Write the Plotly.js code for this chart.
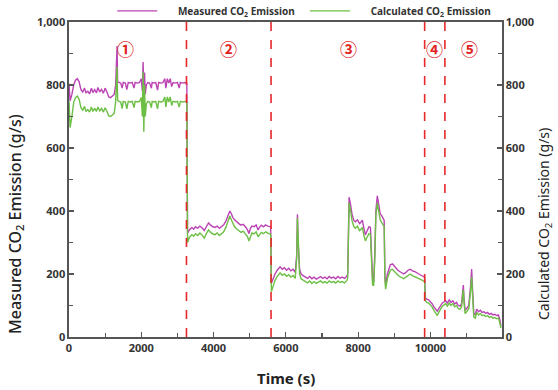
<!DOCTYPE html>
<html>
<head>
<meta charset="utf-8">
<script src="https://cdn.plot.ly/plotly-3.0.1.min.js"></script>
<style>html,body{margin:0;padding:0;background:#fff;}#chart{width:558px;height:390px;}</style>
</head>
<body>
<div id="chart"></div>
<script>
// Time (s)
const timeS = [
0,30,80,130,180,230,280,330,380,430,470,520,570,620,660,710,760,800,850,900,950,1000,1050,1100,1150,1200,1250,1290,1310,1330,1345,1380,1430,1470,1500,1560,1600,1640,1700,1750,1800,1830,1900,1950,2000,2030,2050,2070,2090,2110,2140,2180,2230,2280,2300,2350,2400,2450,2480,2550,2600,2650,2680,2720,2760,2800,2840,2880,2950,3000,3050,3080,3150,3200,3260,
3280,3330,3400,3450,3500,3560,3620,3680,3740,3800,3860,3920,3980,4040,4100,4160,4220,4280,4340,4400,4450,4490,4530,4580,4640,4700,4760,4820,4880,4940,4980,5020,5060,5120,5180,5230,5270,5320,5380,5440,5500,5580,
5600,5640,5700,5760,5840,5900,5960,6020,6080,6140,6200,6260,6300,6320,6340,6380,6420,6480,6540,6600,6660,6720,6780,6840,6900,6960,7020,7080,7140,7200,7260,7320,7380,7440,7500,7560,7620,7680,7710,7730,7750,7790,7830,7880,7920,7980,8040,8080,8116,8160,8200,8240,8300,8340,8370,8400,8430,8460,8490,8530,8570,8610,8650,8690,8720,8740,8760,8810,8860,8890,8950,9000,9050,9100,9150,9200,9260,9320,9380,9440,9500,9560,9620,9680,9740,9800,9840,
9860,9900,9950,10000,10050,10100,10150,10190,10230,10280,10330,10380,10420,10470,10520,10570,10620,10670,10720,10770,10820,10860,10890,10910,10930,10960,11000,11060,11110,11140,11170,11200,11240,11280,11330,11380,11430,11480,11530,11580,11630,11680,11730,11780,11830,11880,11920,11950
];
// Measured CO2 emission (g/s)
const measured = [
805,750,770,800,815,820,810,785,778,790,775,780,772,790,776,785,775,792,778,786,774,790,778,762,760,765,770,800,850,924,810,808,806,790,808,806,785,808,806,808,790,808,806,808,820,780,873,790,840,770,800,808,806,790,808,806,808,784,808,806,808,820,790,820,806,820,795,808,806,808,790,808,806,808,806,
330,340,348,342,350,345,352,347,338,350,362,355,350,348,352,345,350,356,368,385,400,392,380,372,365,360,355,358,350,340,328,345,352,350,356,340,348,355,350,356,352,350,
171,185,200,212,223,215,220,212,218,210,215,205,260,390,300,215,200,195,190,186,192,185,190,184,188,192,186,190,185,192,187,190,185,192,187,190,186,192,200,320,444,420,390,370,366,372,360,365,371,345,324,335,350,348,260,180,178,260,400,448,420,392,385,378,370,200,165,200,220,229,232,225,218,212,208,204,200,205,212,215,210,208,205,200,196,192,190,
125,120,118,112,105,95,88,82,90,100,108,112,115,108,118,110,115,105,110,100,98,105,140,165,120,85,90,100,160,216,140,75,70,88,80,85,78,80,75,78,72,75,70,72,68,70,55,35
];
// Calculated CO2 emission (g/s)
const calculated = [
750,665,700,745,760,765,755,728,720,732,716,722,714,730,716,726,716,730,718,726,714,728,716,702,700,704,710,745,800,858,752,748,746,725,748,746,724,748,746,748,728,748,746,748,760,700,842,652,800,700,740,748,746,728,748,746,748,724,748,746,748,762,730,762,746,762,735,748,746,748,730,748,746,748,746,
300,316,325,320,328,322,330,324,314,328,340,332,327,325,330,322,328,334,348,366,384,372,360,350,343,338,332,336,328,318,305,322,330,327,334,318,326,332,328,334,330,326,
144,162,180,192,204,196,200,193,198,190,195,186,250,378,290,200,185,180,176,172,178,170,176,170,174,178,172,176,171,178,173,176,171,178,173,176,172,178,186,300,425,400,370,350,345,352,338,342,348,322,305,315,328,326,240,165,164,245,385,425,398,372,364,356,350,185,152,186,205,212,215,208,202,196,192,188,185,190,196,200,195,192,190,186,182,178,176,
115,110,108,102,95,84,74,68,78,90,98,102,106,98,108,100,106,96,100,90,88,95,128,150,108,74,80,90,145,190,125,64,60,78,70,75,68,70,65,68,62,65,60,62,58,60,45,28
];
// Phase boundaries (s) and phase labels
const phaseBounds = [3250, 5590, 9840, 10400];
const phaseLabels = ['①','②','③','④','⑤'];
const phaseLabelTimes = [1550, 4400, 7730, 10110, 11080];
const xTickVals = [0, 2000, 4000, 6000, 8000, 10000];

const axisColor = '#555';
const tickFont = {family: 'Noto Sans, Open Sans, sans-serif', size: 11, color: '#333', weight: 'bold'};
const gap = '\u00a0\u00a0\u00a0\u00a0\u00a0\u00a0';

const traces = [
  {x: timeS, y: measured, type: 'scatter', mode: 'lines', name: gap + 'Measured CO<sub>2</sub> Emission\u00a0\u00a0',
   line: {color: '#bb44b4', width: 1.4}},
  {x: timeS, y: calculated, type: 'scatter', mode: 'lines', name: gap + 'Calculated CO<sub>2</sub> Emission',
   line: {color: '#6cbf44', width: 1.4}},
  {x: [], y: [], yaxis: 'y2', type: 'scatter', showlegend: false, hoverinfo: 'skip'}
];

const shapes = phaseBounds.map(b => ({
  type: 'line', xref: 'x', yref: 'paper', x0: b, x1: b, y0: 0, y1: 1,
  line: {color: '#e8282a', width: 1.6, dash: 'dash'}
}));

const annotations = phaseLabels.map((lab, i) => ({
  text: lab, x: phaseLabelTimes[i], xref: 'x', y: 0.962, yref: 'paper',
  showarrow: false, font: {family: 'Noto Sans CJK KR, DejaVu Sans, sans-serif', size: 17, color: '#e02424', weight: 'bold'}
}));
annotations.push(
  {text: 'Measured CO<sub>2</sub> Emission (g/s)', textangle: -90, xref: 'paper', yref: 'paper',
   x: -0.124, y: 0.36, xanchor: 'center', yanchor: 'middle', showarrow: false,
   font: {family: 'Noto Sans, Open Sans, sans-serif', size: 16, color: '#222', weight: 500}},
  {text: 'Calculated CO<sub>2</sub> Emission (g/s)', textangle: -90, xref: 'paper', yref: 'paper',
   x: 1.098, y: 0.36, xanchor: 'center', yanchor: 'middle', showarrow: false,
   font: {family: 'Noto Sans, Open Sans, sans-serif', size: 14, color: '#222'}},
  {text: 'Time (s)', xref: 'paper', yref: 'paper', x: 0.5, y: -0.13, xanchor: 'center', yanchor: 'middle',
   showarrow: false, font: {family: 'Noto Sans, Open Sans, sans-serif', size: 15, color: '#222', weight: 'bold'}}
);

const layout = {
  width: 558, height: 390,
  margin: {l: 69, r: 56, t: 22, b: 53, autoexpand: false},
  paper_bgcolor: '#fff', plot_bgcolor: '#fff',
  showlegend: true,
  legend: {orientation: 'h', x: 0.1, xanchor: 'left', yref: 'container', y: 0.972, yanchor: 'middle',
    font: {family: 'Noto Sans, Open Sans, sans-serif', size: 10, color: '#333', weight: 'bold'},
    itemwidth: 40, entrywidth: 0, bgcolor: 'rgba(0,0,0,0)', tracegroupgap: 0},
  xaxis: {range: [0, 11980], tickvals: xTickVals, tickformat: 'd', ticks: 'inside', ticklen: 5,
    tickcolor: axisColor, tickwidth: 1.2,
    minor: {dtick: 1000, ticks: 'inside', ticklen: 4, tickcolor: axisColor},
    showline: true, linecolor: axisColor, linewidth: 1.6, mirror: true,
    showgrid: false, zeroline: false, tickfont: tickFont},
  yaxis: {range: [0, 1000], dtick: 200, tickformat: ',d', ticks: 'inside', ticklen: 5,
    tickcolor: axisColor, tickwidth: 1.2,
    minor: {dtick: 100, ticks: 'inside', ticklen: 4, tickcolor: axisColor},
    showline: true, linecolor: axisColor, linewidth: 1.6,
    showgrid: false, zeroline: false, tickfont: tickFont},
  yaxis2: {range: [0, 1000], dtick: 200, tickformat: ',d', overlaying: 'y', side: 'right',
    ticks: 'inside', ticklen: 5, tickcolor: axisColor, tickwidth: 1.2,
    minor: {dtick: 100, ticks: 'inside', ticklen: 4, tickcolor: axisColor},
    showline: true, linecolor: axisColor, linewidth: 1.6,
    showgrid: false, zeroline: false, tickfont: tickFont},
  shapes: shapes,
  annotations: annotations
};

Plotly.newPlot('chart', traces, layout, {staticPlot: true, displayModeBar: false});
</script>
</body>
</html>
